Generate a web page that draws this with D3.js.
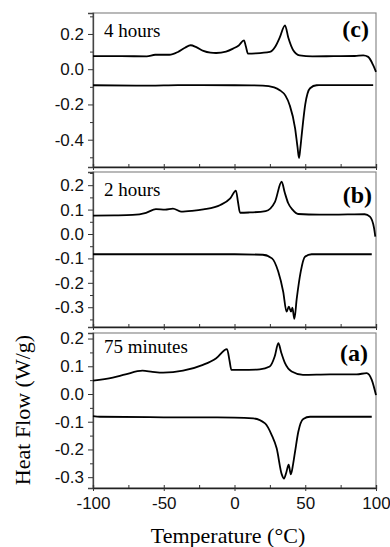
<!DOCTYPE html>
<html>
<head>
<meta charset="utf-8">
<script src="https://cdn.jsdelivr.net/npm/d3@7"></script>
<style>
  body { margin: 0; background: #fff; }
  svg { display: block; }
</style>
</head>
<body>
<script>
// DSC traces, three isothermal hold times. Pairs are [temperature °C, heat flow W/g]

// ---------- data ----------
var xTicks = [-100, -50, 0, 50, 100];
var xMinorTicks = [-75, -25, 25, 75];

var panelNames = ['4 hours', '2 hours', '75 minutes'];
var panelLetters = ['(c)', '(b)', '(a)'];

var yTicksC = [0.2, 0.0, -0.2, -0.4];
var yTicksB = [0.2, 0.1, 0.0, -0.1, -0.2, -0.3];
var yTicksA = [0.2, 0.1, 0.0, -0.1, -0.2, -0.3];

// 4 hours
var heat4h = [[-100,0.074],[-80,0.074],[-62,0.073],[-56,0.082],[-46,0.082],[-40,0.098],[-35,0.122],[-31,0.136],
  [-27,0.125],[-22,0.104],[-17,0.094],[-13,0.092],[-6,0.100],[-1,0.117],[3,0.135],[6.7,0.164],[8,0.13],[9.5,0.089],
  [15,0.09],[25,0.098],[29,0.13],[32,0.18],[35.7,0.249],[38,0.18],[41.5,0.108],[46,0.079],[55,0.073],[70,0.074],
  [85,0.075],[91,0.079],[94.5,0.07],[98,0.023],[100,-0.015]];
var cool4h = [[-100,-0.091],[-60,-0.093],[-40,-0.09],[0,-0.091],[20,-0.093],[28,-0.103],[32,-0.119],[36,-0.15],
  [39,-0.204],[42.8,-0.334],[44.5,-0.44],[45.6,-0.504],[46.5,-0.45],[47.7,-0.357],[50,-0.2],[53.4,-0.108],
  [58,-0.091],[75,-0.09],[98,-0.09]];

// 2 hours
var heat2h = [[-100,0.075],[-85,0.076],[-72,0.078],[-62.5,0.087],[-55.5,0.102],[-49,0.100],[-43.5,0.104],
  [-37.8,0.092],[-30,0.095],[-22,0.101],[-10,0.119],[-3,0.146],[1,0.178],[2.5,0.13],[3.9,0.087],[10,0.088],
  [22,0.094],[28.6,0.132],[33.3,0.214],[35.5,0.17],[37.9,0.127],[41,0.1],[45,0.082],[60,0.079],[80,0.080],
  [92,0.081],[95.7,0.071],[98.6,0.025],[99.5,-0.011]];
var cool2h = [[-100,-0.083],[-50,-0.083],[0,-0.083],[20,-0.085],[26.5,-0.1],[30.9,-0.154],[34.4,-0.236],
  [36.8,-0.318],[38.4,-0.298],[40,-0.318],[40.9,-0.302],[42.3,-0.348],[44,-0.264],[46.8,-0.154],[49.8,-0.093],
  [54.5,-0.083],[97,-0.083]];

// 75 minutes
var heat75 = [[-100,0.048],[-86,0.059],[-77,0.071],[-65,0.084],[-58,0.08],[-50.5,0.077],[-36.4,0.084],
  [-22.3,0.105],[-12.9,0.129],[-5.3,0.162],[-3.5,0.12],[-2.2,0.087],[5,0.087],[17.8,0.089],[24.9,0.099],
  [28.4,0.135],[31,0.183],[33,0.15],[35.7,0.111],[40.4,0.081],[48.4,0.069],[67.5,0.071],[86.4,0.071],
  [93.4,0.075],[97,0.051],[100,-0.004]];
var cool75 = [[-100,-0.080],[-95,-0.082],[-50,-0.084],[0,-0.085],[13.3,-0.088],[21.6,-0.106],[26.3,-0.148],
  [29.8,-0.196],[33.4,-0.29],[35,-0.305],[36.5,-0.285],[38.3,-0.255],[39.8,-0.29],[41.5,-0.25],[42.8,-0.208],
  [45.1,-0.136],[48.6,-0.09],[53.4,-0.082],[97,-0.082]];

// ---------- layout ----------
var W = 390, H = 547;
var left = 93, right = 376;
var serif = "'Liberation Serif', 'Times New Roman', serif";
var sans = "'Liberation Sans', Arial, sans-serif";
var panels = [
  {top: 13,  bottom: 167, y0: -0.555, y1: 0.319, ticks: yTicksC, minor: 0.1,  heat: heat4h, cool: cool4h},
  {top: 172, bottom: 327, y0: -0.381, y1: 0.254, ticks: yTicksB, minor: 0.05, heat: heat2h, cool: cool2h},
  {top: 333, bottom: 488, y0: -0.339, y1: 0.220, ticks: yTicksA, minor: 0.05, heat: heat75, cool: cool75}
];
var nameY = [37, 196, 353];
var letterY = [37, 203, 361];
var letterX = [369, 372, 368];

var fmt = function(d){ return d3.format('.1f')(d).replace('\u2212', '-'); };

var svg = d3.select('body').append('svg').attr('width', W).attr('height', H);

var x = d3.scaleLinear().domain([-100, 100]).range([left, right]);

panels.forEach(function(p, i){
  var y = d3.scaleLinear().domain([p.y0, p.y1]).range([p.bottom, p.top]);
  var g = svg.append('g');

  // frame
  g.append('rect').attr('x', left).attr('y', p.top)
    .attr('width', right - left).attr('height', p.bottom - p.top)
    .attr('fill', 'none').attr('stroke', '#8a8a8a').attr('stroke-width', 1.2);

  // minor y ticks (outward)
  var minors = [];
  for (var v = Math.ceil(p.y0 / p.minor) * p.minor; v <= p.y1 + 1e-9; v += p.minor) {
    var r = Math.round(v * 1000) / 1000;
    if (!p.ticks.some(function(t){ return Math.abs(t - r) < 1e-6; })) minors.push(r);
  }
  g.append('g').attr('transform', 'translate(' + left + ',0)')
    .call(d3.axisLeft(y).tickValues(minors).tickSize(3).tickFormat(''))
    .call(function(a){ a.select('.domain').remove(); a.selectAll('line').attr('stroke', '#333'); });

  // major y ticks
  var ya = g.append('g').attr('transform', 'translate(' + left + ',0)')
    .call(d3.axisLeft(y).tickValues(p.ticks).tickSize(5).tickPadding(4).tickFormat(fmt));
  ya.select('.domain').attr('stroke', '#444').attr('stroke-width', 1.3);
  ya.selectAll('line').attr('stroke', '#333');
  ya.selectAll('text').attr('font-family', sans).attr('font-size', 17).attr('fill', '#111');

  // bottom axis: inward minor ticks, crossing major ticks
  var xb = g.append('g').attr('transform', 'translate(0,' + p.bottom + ')');
  xb.call(d3.axisBottom(x).tickValues(xMinorTicks).tickSize(-3).tickFormat(''))
    .call(function(a){ a.select('.domain').attr('stroke', '#222').attr('stroke-width', 1.3); a.selectAll('line').attr('stroke', '#333'); });
  var xm = g.append('g').attr('transform', 'translate(0,' + p.bottom + ')')
    .call(d3.axisBottom(x).tickValues(xTicks).tickSize(3).tickPadding(6)
      .tickFormat(i === 2 ? function(d){ return String(d).replace('\u2212', '-'); } : ''));
  xm.select('.domain').remove();
  xm.selectAll('line').attr('y1', -3).attr('stroke', '#333');
  xm.selectAll('text').attr('font-family', sans).attr('font-size', 17).attr('fill', '#111');

  // traces
  var line = d3.line().x(function(d){ return x(d[0]); }).y(function(d){ return y(d[1]); })
    .curve(d3.curveMonotoneX);
  [p.heat, p.cool].forEach(function(s){
    g.append('path').attr('d', line(s)).attr('fill', 'none')
      .attr('stroke', '#000').attr('stroke-width', 1.8).attr('stroke-linejoin', 'round');
  });

  // labels
  g.append('text').attr('x', left + 11).attr('y', nameY[i]).text(panelNames[i])
    .attr('font-family', serif).attr('font-size', 19);
  g.append('text').attr('x', letterX[i]).attr('y', letterY[i]).attr('text-anchor', 'end').text(panelLetters[i])
    .attr('font-family', serif).attr('font-size', 24).attr('font-weight', 'bold');
});

// axis titles
svg.append('text').attr('x', 228).attr('y', 543).attr('text-anchor', 'middle')
  .attr('font-family', serif).attr('font-size', 22)
  .text('Temperature (°C)');
svg.append('text').attr('transform', 'translate(30,410) rotate(-90)').attr('text-anchor', 'middle')
  .attr('font-family', serif).attr('font-size', 22)
  .text('Heat Flow (W/g)');
</script>
</body>
</html>
